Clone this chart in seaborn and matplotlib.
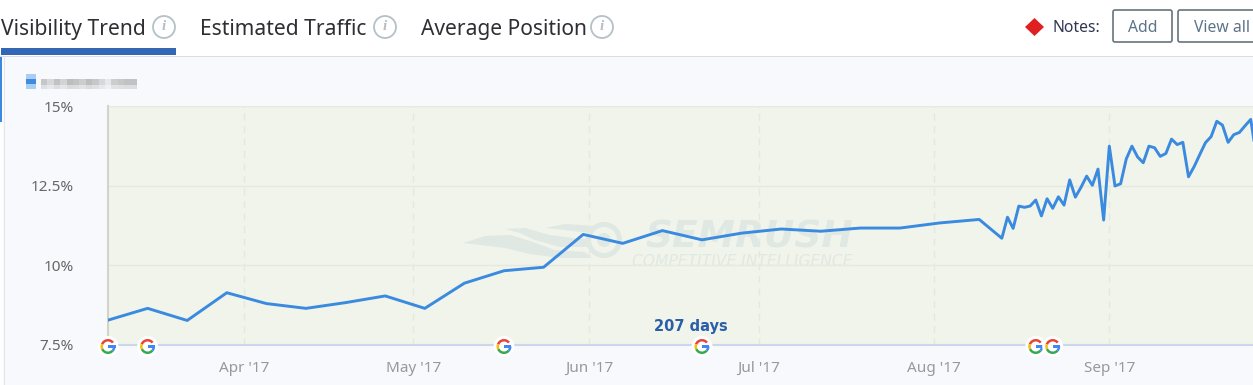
import matplotlib
matplotlib.use("Agg")
import matplotlib.pyplot as plt
from matplotlib.patches import Circle, Wedge, Rectangle, Polygon, FancyBboxPatch
import pandas as pd
import seaborn as sns

# ---- data ----
start_date = "2017-03-08"
weekly_days = [0, 7, 14, 21, 28, 35, 42, 49, 56, 63, 70, 77, 84, 91, 98, 105, 112, 119, 126, 133, 140, 147, 154]
weekly_values = [8.28, 8.65, 8.27, 9.14, 8.80, 8.65, 8.83, 9.04, 8.65, 9.44, 9.83, 9.94, 10.97, 10.69, 11.09,
                 10.80, 11.01, 11.14, 11.07, 11.17, 11.17, 11.33, 11.44]
daily_days = list(range(158, 204))
daily_values = [10.85, 11.51, 11.16, 11.86, 11.82, 11.86, 12.05, 11.55, 12.09, 11.79, 12.15, 11.89, 12.68, 12.14,
                12.45, 12.80, 12.51, 13.02, 11.42, 13.74, 12.49, 12.56, 13.34, 13.74, 13.40, 13.22, 13.74, 13.69,
                13.42, 13.51, 13.96, 13.79, 13.86, 12.78, 13.10, 13.48, 13.85, 14.04, 14.52, 14.40, 13.86, 14.10,
                14.17, 14.38, 14.58, 13.40]
y_ticks = [7.5, 10, 12.5, 15]
y_labels = ["7.5%", "10%", "12.5%", "15%"]
month_ticks = ["2017-04-01", "2017-05-01", "2017-06-01", "2017-07-01", "2017-08-01", "2017-09-01"]
month_labels = ["Apr '17", "May '17", "Jun '17", "Jul '17", "Aug '17", "Sep '17"]
update_days = ["2017-03-08", "2017-03-15", "2017-05-17", "2017-06-21", "2017-08-19", "2017-08-22"]
tabs = ["Visibility Trend", "Estimated Traffic", "Average Position"]

W, H = 1253, 385
FONT = ["Noto Sans", "DejaVu Sans"]
sns.set_theme(style="white")
plt.rcParams["font.family"] = FONT
plt.rcParams["axes.unicode_minus"] = False

df = pd.DataFrame({
    "date": pd.Timestamp(start_date) + pd.to_timedelta(weekly_days + daily_days, unit="D"),
    "visibility": weekly_values + daily_values,
})

fig = plt.figure(figsize=(W / 100, H / 100), dpi=100, facecolor="white")

# background chrome in pixel coordinates
bg = fig.add_axes([0, 0, 1, 1], zorder=0)
bg.set_xlim(0, W); bg.set_ylim(H, 0); bg.axis("off")
bg.add_patch(Rectangle((3, 57), W, H, fc="#f7f9fc", ec="none"))
bg.add_patch(Rectangle((0, 56), W, 1.3, fc="#dcdde0", ec="none"))
bg.add_patch(Rectangle((3.5, 57), 1.2, H, fc="#e4e6ea", ec="none"))
bg.add_patch(Rectangle((0, 57), 2.2, 65, fc="#3a8ae0", ec="none"))
bg.add_patch(Rectangle((108, 106), W, 239, fc="#f1f4ea", ec="none"))

# tabs
for label, x in zip(tabs, [1, 200, 421]):
    bg.text(x, 35, label, fontsize=15.1, color="#2e2e33", va="baseline", ha="left")
bg.add_patch(Rectangle((1, 48), 175, 7, fc="#3366b3", ec="none"))
for cx in [164, 385, 602]:
    bg.add_patch(Circle((cx, 27), 11, fc="white", ec="#b4c1c8", lw=1.3))
    bg.text(cx, 27, "i", fontsize=11, color="#b4bec4", family="Liberation Serif", style="italic",
            weight="bold", ha="center", va="center")

# notes
bg.add_patch(Polygon([(1025, 27), (1034.5, 18), (1044, 27), (1034.5, 36)], fc="#e02020", ec="none"))
bg.text(1052, 32.5, "Notes:", fontsize=11.3, color="#2f3550", va="baseline")
for x, w in [(1112, 61), (1177, 120)]:
    bg.add_patch(FancyBboxPatch((x + 1, 10), w - 2, 32, boxstyle="round,pad=0,rounding_size=2",
                                fc="white", ec="#66747c", lw=1.2))
bg.text(1142.5, 32.5, "Add", fontsize=11.3, color="#5d7388", va="baseline", ha="center")
bg.text(1194, 32.5, "View all", fontsize=11.3, color="#5d7388", va="baseline", ha="left")

# blurred legend
bg.add_patch(Rectangle((26, 74), 10, 15, fc="#a9cdf3", ec="none"))
bg.add_patch(Rectangle((26, 79), 10, 5, fc="#3f8be0", ec="none"))
smudge = [.45, .3, .5, .35, .55, .5, .4, .55, .45, .3, .15, .4, .45, .5, .5]
for i, a in enumerate(smudge):
    bg.add_patch(Rectangle((41 + i * 6.4, 79), 6.4, 6, fc="#8c8c8c", alpha=a, ec="none"))
    bg.add_patch(Rectangle((41 + i * 6.4, 85), 6.4, 4, fc="#8c8c8c", alpha=a * 0.5, ec="none"))

# watermark
WM = "#e0e8e3"
bg.add_patch(Circle((604, 240), 15.5, fc="none", ec=WM, lw=3.6))
bg.add_patch(Circle((604, 240), 7, fc=WM, ec="none"))
bg.add_patch(Polygon([(463, 243), (485, 236), (510, 235), (530, 241), (555, 250), (585, 252), (592, 258),
                      (560, 258), (530, 254), (505, 248), (480, 245)], fc=WM, ec="none"))
bg.add_patch(Polygon([(505, 229), (525, 228), (550, 235), (580, 239), (590, 238), (589, 247), (560, 247),
                      (535, 240), (520, 233)], fc=WM, ec="none"))
bg.add_patch(Polygon([(545, 228), (565, 230), (590, 233), (597, 226), (565, 224)], fc=WM, ec="none"))
bg.text(645, 247, "SEMRUSH", fontsize=27, color=WM, weight="bold", style="italic",
        family="DejaVu Sans", ha="left", va="baseline")
bg.text(632, 265.5, "COMPETITIVE INTELLIGENCE", fontsize=11.2, color=WM, style="italic",
        family="DejaVu Sans", ha="left", va="baseline")

# the chart
ax = fig.add_axes([108 / W, 1 - 345 / H, (W - 108) / W, 239 / H], zorder=1)
ax.patch.set_alpha(0)
sns.lineplot(data=df, x="date", y="visibility", ax=ax, color="#3a8ae0", lw=2.1, zorder=5, errorbar=None)
ax.set_xlim(pd.Timestamp(start_date), pd.Timestamp(start_date) + pd.Timedelta(days=202.4))
ax.set_ylim(7.5, 15)
ax.set_xlabel(""); ax.set_ylabel("")
ax.set_yticks(y_ticks, y_labels)
ax.set_xticks(pd.to_datetime(month_ticks), month_labels)
ax.tick_params(axis="y", length=34 * .72, width=1, color="#e6e8e6", pad=0, labelsize=11, labelcolor="#666666")
ax.tick_params(axis="x", length=10 * .72, width=1, color="#ccd6eb", pad=4, labelsize=11, labelcolor="#999999")
ax.yaxis.get_major_ticks()[0].tick1line.set_color("#ccd6eb")
ax.grid(axis="y", color="#e6e9dd", lw=1, ls="-")
ax.grid(axis="x", color="#e6e8de", lw=1, ls=(0, (5, 4)))
ax.set_axisbelow(True)
for s in ["top", "right"]:
    ax.spines[s].set_visible(False)
ax.spines["left"].set_color("#d2d4ca"); ax.spines["left"].set_linewidth(1.5)
ax.spines["bottom"].set_color("#ccd6eb"); ax.spines["bottom"].set_linewidth(1.5)

# overlay: Google update flags and label
top = fig.add_axes([0, 0, 1, 1], zorder=2)
top.set_xlim(0, W); top.set_ylim(H, 0); top.axis("off"); top.patch.set_alpha(0)

def gflag(cx, cy=346.5):
    top.add_patch(Circle((cx, cy), 10.5, fc="white", ec="none"))
    for t1, t2, c in [(-160, -38, "#ea4335"), (-205, -160, "#fbbc05"), (-320, -205, "#34a853"), (-360, -320, "#4285f4")]:
        top.add_patch(Wedge((cx, cy), 7.5, t1, t2, width=2.5, fc=c, ec="none"))
    top.add_patch(Rectangle((cx, cy - 1.2), 7.5, 2.4, fc="#4285f4", ec="none"))

t0 = pd.Timestamp(start_date)
px_per_day = (W - 108) / 202.4
for d in update_days:
    gflag(108 + (pd.Timestamp(d) - t0).days * px_per_day)
top.text(691, 326, "207 days", fontsize=10.5, weight="bold", color="#2a5ea8", family="DejaVu Sans",
         ha="center", va="center")

fig.savefig("out.png", dpi=100)
